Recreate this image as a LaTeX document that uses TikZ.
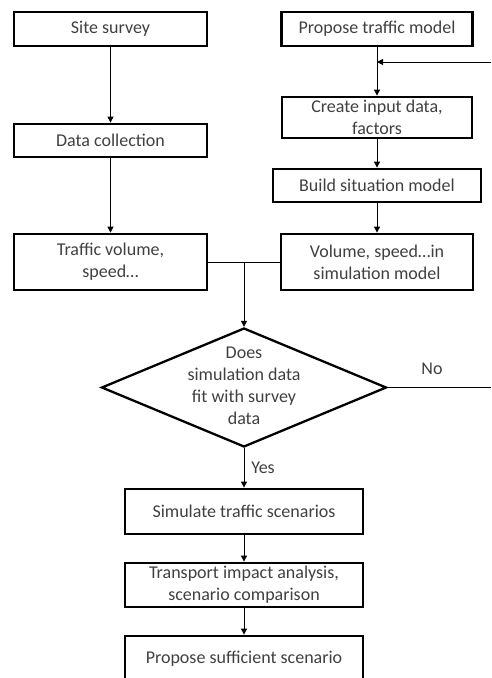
\documentclass[tikz,border=0pt]{standalone}
\usepackage{fontspec}
\setmainfont{Carlito}
\usetikzlibrary{shapes.geometric,arrows.meta}
\definecolor{txt}{HTML}{404040}
\begin{document}
\begin{tikzpicture}[x=1pt,y=-1pt,
  box/.style={draw=black, line width=2.8pt, text=txt, align=center, font=\fontsize{18}{22}\selectfont, inner sep=0pt},
  conn/.style={draw=black, line width=1pt, -{Triangle[length=6pt,width=6pt]}},
  plain/.style={draw=black, line width=1pt},
  lbl/.style={text=txt, font=\fontsize{18}{22}\selectfont, inner sep=0pt}]
\useasboundingbox (0,0) rectangle (492,678);
% left column
\node[box, minimum width=193, minimum height=34] (site) at (110.5,29) {Site survey};
\node[box, minimum width=193, minimum height=33] (data) at (110.5,140.5) {Data collection};
\node[box, minimum width=193, minimum height=56] (traffic) at (110.5,262) {Traffic volume,\\speed…};
% right column
\node[box, minimum width=191, minimum height=34] (propose) at (377,29) {Propose traffic model};
\node[box, minimum width=190, minimum height=41] (create) at (377,117.5) {Create input data,\\factors};
\node[box, minimum width=208, minimum height=33] (build) at (377,185.5) {Build situation model};
\node[box, minimum width=192, minimum height=56] (volume) at (377,262) {Volume, speed…in\\simulation model};
% decision
\node[draw=black, diamond, line width=2.3pt, minimum width=285, minimum height=119, inner sep=0pt] (dec) at (244,387.5) {};
\node[lbl, align=center] (dectext) at (244,386) {Does\\simulation data\\fit with survey\\data};
% bottom column
\node[box, minimum width=238, minimum height=45] (sim) at (244,511.5) {Simulate traffic scenarios};
\node[box, minimum width=238, minimum height=44] (trans) at (244,585) {Transport impact analysis,\\scenario comparison};
\node[box, minimum width=238, minimum height=46] (prop2) at (244,659) {Propose sufficient scenario};
% connectors
\draw[conn] (site) -- (data);
\draw[conn] (data) -- (traffic);
\draw[conn] (propose) -- (create);
\coordinate (fb) at (491,62);
\draw[conn] (fb) -- (fb -| propose);
\draw[conn] (create) -- (build);
\draw[conn] (build) -- (volume);
\draw[plain] (traffic.east) -- (volume.west);
\coordinate (j) at (dec.north |- traffic.east);
\draw[conn] (j) -- (dec.north);
\coordinate (noend) at (dec.east -| fb);
\draw[plain] (dec.east) -- (noend);
\node[lbl] (no) at (432,369) {No};
\draw[conn] (dec.south) -- (sim);
\node[lbl] (yes) at (263,468) {Yes};
\draw[conn] (sim) -- (trans);
\draw[conn] (trans) -- (prop2);
\end{tikzpicture}
\end{document}
